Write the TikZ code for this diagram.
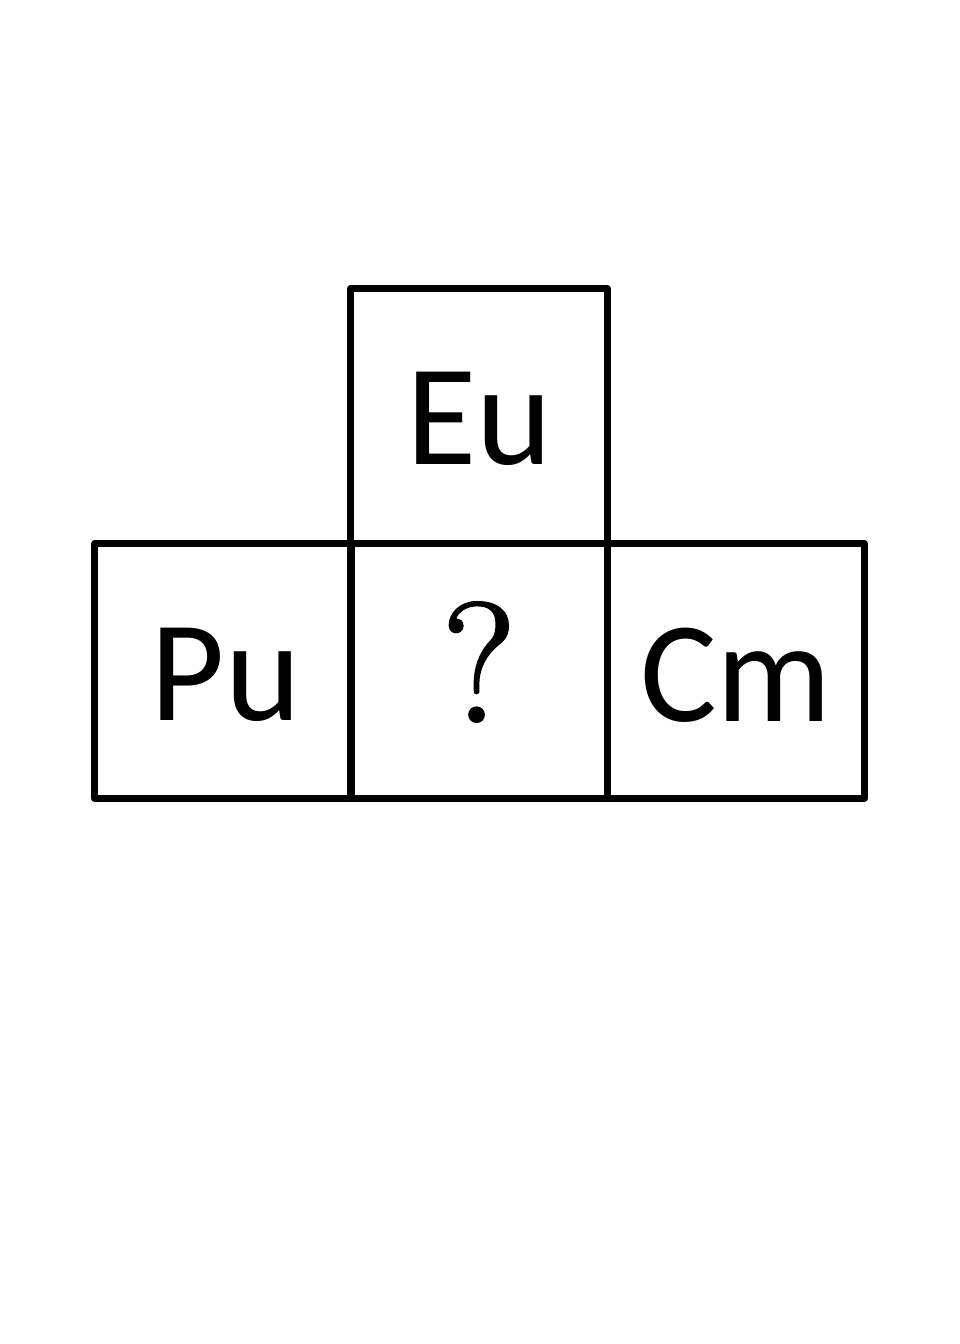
\documentclass[tikz,border=0pt]{standalone}
\usepackage{fontspec}
\setmainfont{Carlito}
\newfontfamily\lmfont[FakeBold=1.6]{Latin Modern Roman}
\tikzset{
  cell/.style={draw=black, line width=6.5pt, line join=round, rectangle, inner sep=0pt, outer sep=0pt, minimum width=257pt, minimum height=255pt},
  sym/.style={inner sep=0pt, font=\fontsize{144}{150}\selectfont},
  qmark/.style={inner sep=0pt, font=\lmfont\fontsize{170}{176}\selectfont}
}
\begin{document}
\begin{tikzpicture}[x=1pt,y=-1pt]
\useasboundingbox (0,0) rectangle (960,1344);
\node[cell] (eu) at (479,416) {};
\node[cell] (pu) at (223,671) {};
\node[cell] (q)  at (479,671) {};
\node[cell] (cm) at (736,671) {};
\node[sym] (eut) at ([yshift=-3pt]eu.center) {Eu};
\node[sym] (put) at ([xshift=3pt,yshift=-4pt]pu.center) {Pu};
\node[sym] (cmt) at ([yshift=-4pt]cm.center) {Cm};
\node[qmark] (qt) at ([yshift=9pt]q.center) {?};
\end{tikzpicture}
\end{document}
